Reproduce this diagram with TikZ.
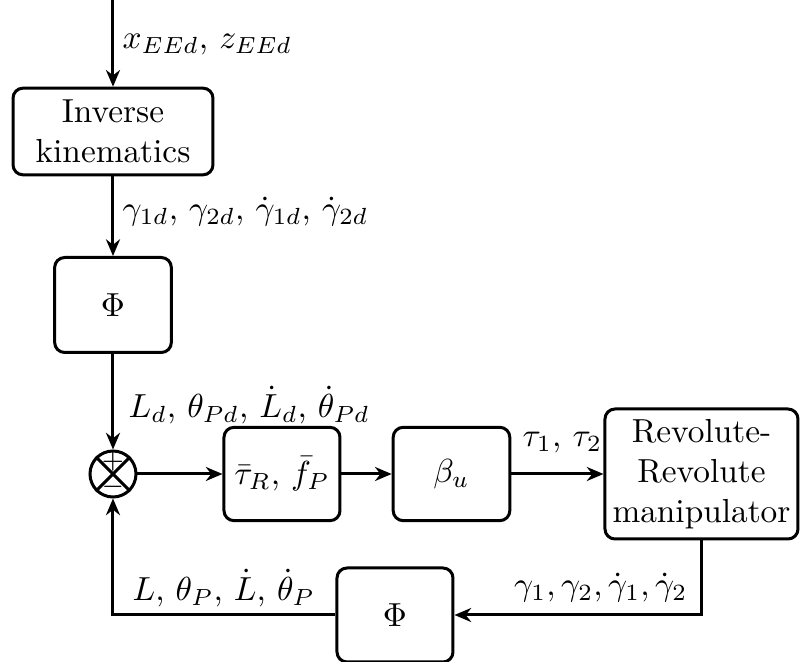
\documentclass[tikz,border=0pt]{standalone}
\usetikzlibrary{arrows.meta}
\begin{document}
\begin{tikzpicture}[x=0.3pt,y=-0.3pt,
  blk/.style={draw, line width=0.9pt, rounded corners=3pt, align=center, inner sep=0pt},
  arr/.style={line width=0.9pt, -{Stealth[length=5pt,width=4.2pt]}},
  lbl/.style={anchor=west, inner sep=0pt}]
\useasboundingbox (0,0) rectangle (800,662);

% blocks
\node[blk, minimum width=60pt, minimum height=26pt] (ik) at (113,131.5) {Inverse\\kinematics};
\node[blk, minimum width=35pt, minimum height=28.5pt] (phi1) at (113,305) {$\Phi$};
\node[draw, circle, line width=0.9pt, minimum size=13.8pt, inner sep=0pt] (sum) at (113,474) {};
\node[blk, minimum width=34.8pt, minimum height=28pt] (tau) at (282,474) {$\bar\tau_R$, $\bar f_P$};
\node[blk, minimum width=35pt, minimum height=28pt] (beta) at (451.5,474) {$\beta_u$};
\node[blk, minimum width=57.9pt, minimum height=39pt] (rr) at (701.5,474) {Revolute-\\Revolute\\manipulator};
\node[blk, minimum width=34.8pt, minimum height=28.2pt] (phi2) at (395,615) {$\Phi$};

% summing junction marks
\draw[line width=0.9pt] (sum.north west) -- (sum.south east)
                        (sum.north east) -- (sum.south west);
\node[inner sep=0pt, font=\footnotesize] (plus) at (113,462) {$+$};
\node[inner sep=0pt, font=\footnotesize] (minus) at (113,487) {$-$};

% signal flow
\coordinate (in) at (113,0);
\draw[arr] (in) -- (ik);
\draw[arr] (ik) -- (phi1);
\draw[arr] (phi1) -- (sum);
\draw[arr] (sum) -- (tau);
\draw[arr] (tau) -- (beta);
\draw[arr] (beta) -- (rr);
\draw[arr] (rr.south) |- (phi2.east);
\draw[arr] (phi2.west) -| (sum.south);

% signal labels
\node[lbl] (lx) at (122,45) {$x_{EEd}$, $z_{EEd}$};
\node[lbl] (lg) at (122,212) {$\gamma_{1d}$, $\gamma_{2d}$, $\dot\gamma_{1d}$, $\dot\gamma_{2d}$};
\node[lbl] (ll) at (128,405) {$L_d$, $\theta_{Pd}$, $\dot L_d$, $\dot\theta_{Pd}$};
\node[lbl] (lt) at (522,443) {$\tau_1$, $\tau_2$};
\node[inner sep=0pt, anchor=east] (lgf) at (688,588) {$\gamma_1, \gamma_2, \dot\gamma_1, \dot\gamma_2$};
\node[lbl] (lf) at (132,588) {$L$, $\theta_P$, $\dot L$, $\dot\theta_P$};
\end{tikzpicture}
\end{document}
